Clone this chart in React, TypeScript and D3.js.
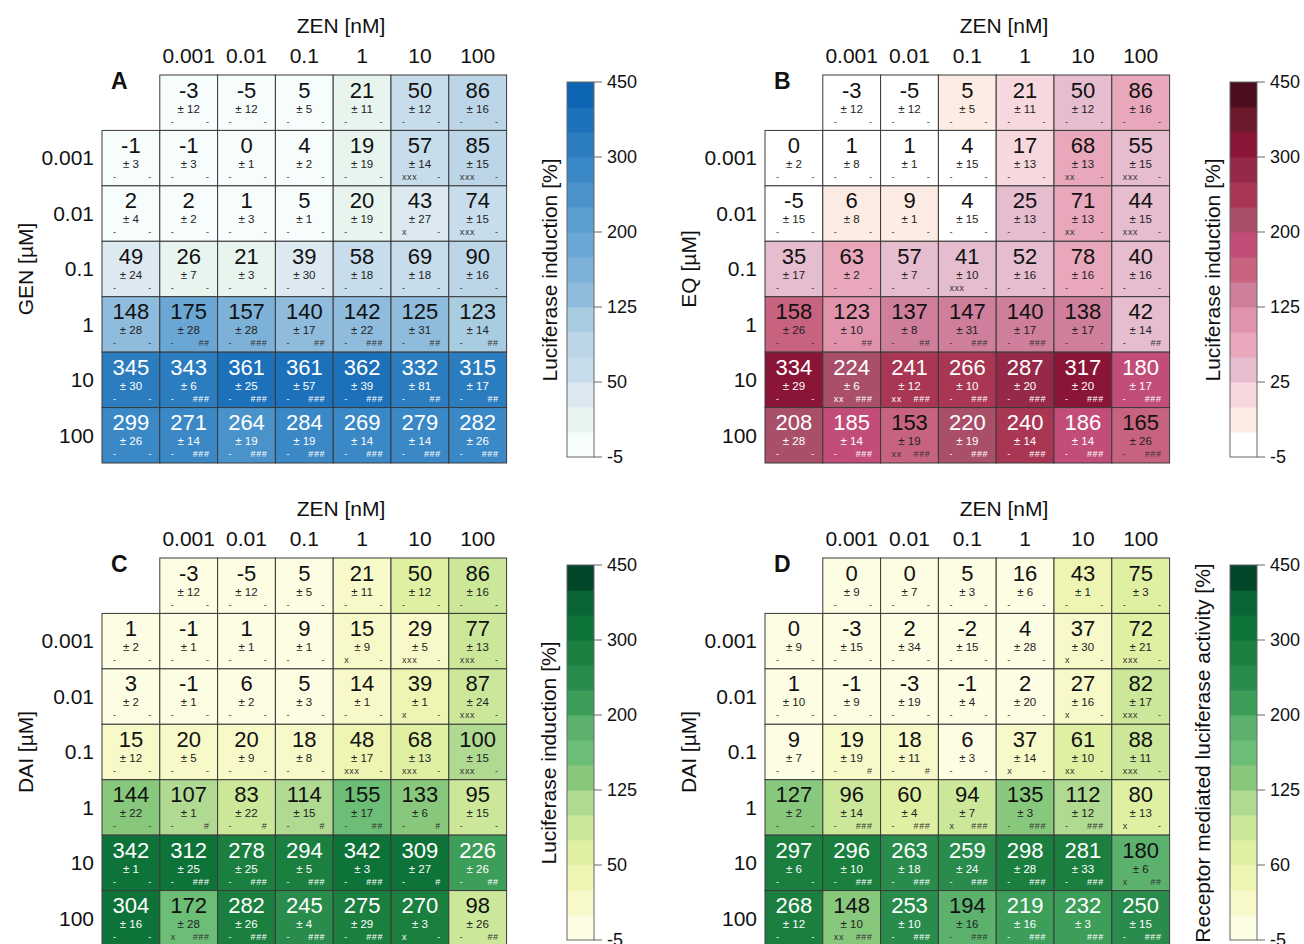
import React from "react";
import * as d3 from "d3";

// column doses (ZEN) and row doses (second compound)
const zenDoses = ["0.001", "0.01", "0.1", "1", "10", "100"];
const rowDoses = ["0.001", "0.01", "0.1", "1", "10", "100"];

// first row = ZEN alone, first column = compound alone
const genMean = [
  [null, -3, -5, 5, 21, 50, 86],
  [-1, -1, 0, 4, 19, 57, 85],
  [2, 2, 1, 5, 20, 43, 74],
  [49, 26, 21, 39, 58, 69, 90],
  [148, 175, 157, 140, 142, 125, 123],
  [345, 343, 361, 361, 362, 332, 315],
  [299, 271, 264, 284, 269, 279, 282],
];
const genSd = [
  [null, 12, 12, 5, 11, 12, 16],
  [3, 3, 1, 2, 19, 14, 15],
  [4, 2, 3, 1, 19, 27, 15],
  [24, 7, 3, 30, 18, 18, 16],
  [28, 28, 28, 17, 22, 31, 14],
  [30, 6, 25, 57, 39, 81, 17],
  [26, 14, 19, 19, 14, 14, 26],
];
const genSig = [
  [null, "- -", "- -", "- -", "- -", "- -", "- -"],
  ["- -", "- -", "- -", "- -", "- -", "xxx -", "xxx -"],
  ["- -", "- -", "- -", "- -", "- -", "x -", "xxx -"],
  ["- -", "- -", "- -", "- -", "- -", "- -", "- -"],
  ["- -", "- ##", "- ###", "- ##", "- ###", "- ##", "- ##"],
  ["- -", "- ###", "- ###", "- ###", "- ###", "- ##", "- ##"],
  ["- -", "- ###", "- ###", "- ###", "- ###", "- ###", "- ###"],
];

const eqMean = [
  [null, -3, -5, 5, 21, 50, 86],
  [0, 1, 1, 4, 17, 68, 55],
  [-5, 6, 9, 4, 25, 71, 44],
  [35, 63, 57, 41, 52, 78, 40],
  [158, 123, 137, 147, 140, 138, 42],
  [334, 224, 241, 266, 287, 317, 180],
  [208, 185, 153, 220, 240, 186, 165],
];
const eqSd = [
  [null, 12, 12, 5, 11, 12, 16],
  [2, 8, 1, 15, 13, 13, 15],
  [15, 8, 1, 15, 13, 13, 15],
  [17, 2, 7, 10, 16, 16, 16],
  [26, 10, 8, 31, 17, 17, 14],
  [29, 6, 12, 10, 20, 20, 17],
  [28, 14, 19, 19, 14, 14, 26],
];
const eqSig = [
  [null, "- -", "- -", "- -", "- -", "- -", "- -"],
  ["- -", "- -", "- -", "- -", "- -", "xx -", "xxx -"],
  ["- -", "- -", "- -", "- -", "- -", "xx -", "xxx -"],
  ["- -", "- -", "- -", "xxx -", "- -", "- -", "- -"],
  ["- -", "- ##", "- ##", "- ###", "- ###", "- -", "- ##"],
  ["- -", "xx ###", "xx ###", "- ###", "- ###", "- ###", "- ###"],
  ["- -", "- ###", "xx ###", "- ###", "- ###", "- ###", "- ###"],
];

const daiMean = [
  [null, -3, -5, 5, 21, 50, 86],
  [1, -1, 1, 9, 15, 29, 77],
  [3, -1, 6, 5, 14, 39, 87],
  [15, 20, 20, 18, 48, 68, 100],
  [144, 107, 83, 114, 155, 133, 95],
  [342, 312, 278, 294, 342, 309, 226],
  [304, 172, 282, 245, 275, 270, 98],
];
const daiSd = [
  [null, 12, 12, 5, 11, 12, 16],
  [2, 1, 1, 1, 9, 5, 13],
  [2, 1, 2, 3, 1, 1, 24],
  [12, 5, 9, 8, 17, 13, 15],
  [22, 1, 22, 15, 17, 6, 15],
  [1, 25, 25, 5, 3, 27, 26],
  [16, 28, 26, 4, 29, 3, 26],
];
const daiSig = [
  [null, "- -", "- -", "- -", "- -", "- -", "- -"],
  ["- -", "- -", "- -", "- -", "x -", "xxx -", "xxx -"],
  ["- -", "- -", "- -", "- -", "- -", "x -", "xxx -"],
  ["- -", "- -", "- -", "- -", "xxx -", "xxx -", "xxx -"],
  ["- -", "- #", "- #", "- #", "- ##", "- #", "- -"],
  ["- -", "- ###", "- ###", "- ###", "- ###", "- #", "- ##"],
  ["- -", "x ###", "- ###", "- ###", "- ###", "x -", "- ##"],
];

const recMean = [
  [null, 0, 0, 5, 16, 43, 75],
  [0, -3, 2, -2, 4, 37, 72],
  [1, -1, -3, -1, 2, 27, 82],
  [9, 19, 18, 6, 37, 61, 88],
  [127, 96, 60, 94, 135, 112, 80],
  [297, 296, 263, 259, 298, 281, 180],
  [268, 148, 253, 194, 219, 232, 250],
];
const recSd = [
  [null, 9, 7, 3, 6, 1, 3],
  [9, 15, 34, 15, 28, 30, 21],
  [10, 9, 19, 4, 20, 16, 17],
  [7, 19, 11, 3, 14, 10, 11],
  [2, 14, 4, 7, 3, 12, 13],
  [6, 10, 18, 24, 28, 33, 6],
  [12, 10, 10, 16, 16, 3, 15],
];
const recSig = [
  [null, "- -", "- -", "- -", "- -", "- -", "- -"],
  ["- -", "- -", "- -", "- -", "- -", "x -", "xxx -"],
  ["- -", "- -", "- -", "- -", "- -", "x -", "xxx -"],
  ["- -", "- #", "- #", "- -", "x -", "xx -", "xxx -"],
  ["- -", "- ###", "- ###", "x ###", "- ###", "- ###", "x -"],
  ["- -", "- ###", "- ###", "- ###", "- ###", "- ###", "x ##"],
  ["- -", "xx ###", "- ###", "- ###", "- ###", " ###", "- ###"],
];

// colour bar ticks
const ticksA = [-5, 50, 125, 200, 300, 450];
const ticksB = [-5, 25, 125, 200, 300, 450];
const ticksC = [-5, 50, 125, 200, 300, 450];
const ticksD = [-5, 60, 125, 200, 300, 450];

const blues = ["#f7fcfd", "#e8f5ee", "#dde9f1", "#c8ddec", "#bcd6e8", "#a9cde0", "#8fbbdc", "#7db1d8", "#6aa7d4", "#5a9dd0", "#4a92ca", "#3b88c6", "#2c7dc0", "#1d71ba", "#0e65b3"];
const reds = ["#ffffff", "#fdece3", "#f8d8df", "#e6bccf", "#e8a7bb", "#e293ac", "#cf7f9c", "#c8637f", "#c24d78", "#aa4f69", "#a93653", "#96284a", "#8b1537", "#6d1a2d", "#4b0f1f"];
const greens = ["#fdfde3", "#f8f9c8", "#eef5b3", "#e0f0a3", "#cbe89a", "#b0d992", "#88c87c", "#6cbe77", "#5cb26d", "#3d9e5a", "#2a8c4c", "#1b7f3f", "#0e7339", "#0a6535", "#03472b"];

const panels = [
  { letter: "A", yTitle: "GEN [µM]", mean: genMean, sd: genSd, sig: genSig, ticks: ticksA, palette: blues, barTitle: "Luciferase induction [%]", whiteFrom: 200, ox: 0, oy: 0, barTitleX: 550 },
  { letter: "B", yTitle: "EQ [µM]", mean: eqMean, sd: eqSd, sig: eqSig, ticks: ticksB, palette: reds, barTitle: "Luciferase induction [%]", whiteFrom: 175, ox: 663, oy: 0, barTitleX: 550 },
  { letter: "C", yTitle: "DAI [µM]", mean: daiMean, sd: daiSd, sig: daiSig, ticks: ticksC, palette: greens, barTitle: "Luciferase induction [%]", whiteFrom: 200, ox: 0, oy: 483, barTitleX: 549 },
  { letter: "D", yTitle: "DAI [µM]", mean: recMean, sd: recSd, sig: recSig, ticks: ticksD, palette: greens, barTitle: "Receptor mediated luciferase activity [%]", whiteFrom: 200, ox: 663, oy: 483, barTitleX: 540 },
];

const FONT = "'Liberation Sans', Arial, Helvetica, sans-serif";

function Panel({ p }: { p: any }) {
  const x = d3.scaleBand<number>().domain(d3.range(7)).range([p.ox + 102, p.ox + 506.6]);
  const y = d3.scaleBand<number>().domain(d3.range(7)).range([p.oy + 75, p.oy + 463]);
  const pos = d3.scaleLinear().domain(p.ticks).range(d3.range(6).map((i) => i / 5)).clamp(true);
  const quant = d3.scaleQuantize<string>().domain([0, 1]).range(p.palette);
  const color = (v: number) => quant(pos(v));
  const bar = d3.scaleLinear().domain([0, 1]).range([p.oy + 457, p.oy + 82]);
  const bw = x.bandwidth();
  const bh = y.bandwidth();
  const barX = p.ox + 567;
  const barW = 27;
  const nb = p.palette.length;

  const cells: any[] = [];
  p.mean.forEach((row: (number | null)[], r: number) => {
    row.forEach((v, c) => {
      if (v === null) return;
      const cx = x(c)!;
      const cy = y(r)!;
      const light = v >= p.whiteFrom;
      const [sl, sr] = p.sig[r][c].split(" ");
      cells.push(
        <g key={`${r}-${c}`}>
          <rect x={cx} y={cy} width={bw} height={bh} fill={color(v)} stroke="#3a3a3a" strokeWidth={1} />
          <text x={cx + bw / 2} y={cy + 22.5} textAnchor="middle" fontSize={22} fill={light ? "#fff" : "#111"}>
            {v}
          </text>
          <text x={cx + bw / 2} y={cy + 37.5} textAnchor="middle" fontSize={11.5} fill={light ? "#fff" : "#222"}>
            {`± ${p.sd[r][c]}`}
          </text>
          <text x={cx + 11} y={cy + 49.5} fontSize={9} letterSpacing={0.6} fill={light ? "#fff" : "#333"}>
            {sl}
          </text>
          <text x={cx + bw - 8} y={cy + 49.5} textAnchor="end" fontSize={9} letterSpacing={0.6} fill={light ? "#fff" : "#333"}>
            {sr}
          </text>
        </g>
      );
    });
  });

  return (
    <g fontFamily={FONT}>
      <text x={p.ox + 341} y={p.oy + 33} textAnchor="middle" fontSize={21} fill="#111">
        ZEN [nM]
      </text>
      {zenDoses.map((d, i) => (
        <text key={d} x={x(i + 1)! + bw / 2} y={p.oy + 63} textAnchor="middle" fontSize={21} fill="#111">
          {d}
        </text>
      ))}
      {rowDoses.map((d, i) => (
        <text key={d} x={p.ox + 94} y={y(i + 1)! + bh / 2} dy="0.35em" textAnchor="end" fontSize={21} fill="#111">
          {d}
        </text>
      ))}
      <text
        transform={`translate(${p.ox + 26},${p.oy + 269}) rotate(-90)`}
        textAnchor="middle"
        dy="0.35em"
        fontSize={21}
        fill="#111"
      >
        {p.yTitle}
      </text>
      <text x={p.ox + 111} y={p.oy + 89} fontSize={23} fontWeight="bold" fill="#111">
        {p.letter}
      </text>
      {cells}
      {/* colour bar */}
      {d3.range(nb).map((i) => (
        <rect
          key={i}
          x={barX}
          y={bar((i + 1) / nb)}
          width={barW}
          height={bar(i / nb) - bar((i + 1) / nb) + 0.5}
          fill={p.palette[i]}
        />
      ))}
      <rect x={barX} y={bar(1)} width={barW} height={bar(0) - bar(1)} fill="none" stroke="#666" strokeWidth={1} />
      {p.ticks.map((t: number) => (
        <g key={t} transform={`translate(0,${bar(pos(t))})`}>
          <line x1={barX + barW} x2={barX + barW + 8} stroke="#666" strokeWidth={1} />
          <text x={barX + barW + 13} dy="0.35em" fontSize={18} fill="#111">
            {t}
          </text>
        </g>
      ))}
      <text
        transform={`translate(${p.ox + p.barTitleX},${p.oy + 270}) rotate(-90)`}
        textAnchor="middle"
        dy="0.35em"
        fontSize={21}
        fill="#111"
      >
        {p.barTitle}
      </text>
    </g>
  );
}

export default function App() {
  return (
    <svg
      width={1304}
      height={944}
      viewBox="0 0 1304 944"
      style={{ position: "absolute", left: 0, top: 0, background: "#fff" }}
    >
      <rect width={1304} height={944} fill="#fff" />
      {panels.map((p) => (
        <Panel key={p.letter} p={p} />
      ))}
    </svg>
  );
}
